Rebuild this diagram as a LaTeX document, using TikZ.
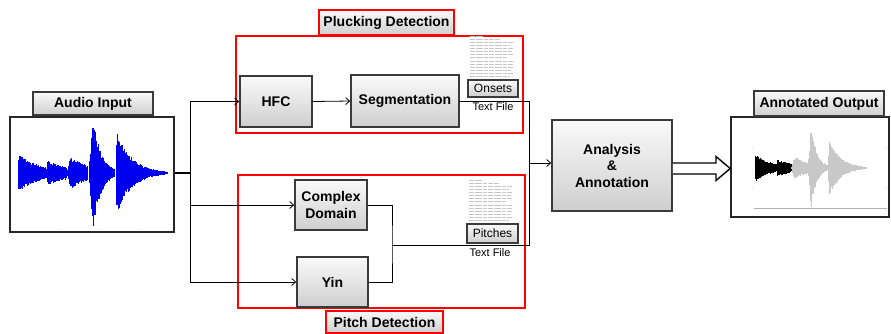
\documentclass[tikz,border=0pt]{standalone}
\usepackage{fontspec}
\setmainfont{Liberation Sans}
\usetikzlibrary{arrows.meta,calc}
\definecolor{bord}{HTML}{3A3A3A}
\definecolor{wblue}{HTML}{0000F0}
\definecolor{wgray}{HTML}{C8C8C8}
\newcommand{\lblfont}{\fontsize{14}{16.5}\selectfont\bfseries}
\newcommand{\smallfont}{\fontsize{12}{14}\selectfont}
\newcommand{\tinyfont}{\fontsize{11}{13}\selectfont}
% one note of a waveform: x0, x1, amplitude, attack, tau, colour
\newcommand{\wnote}[6]{%
  \pgfmathsetmacro\wn{int((#2-#1)/0.45)}%
  \foreach \i in {0,...,\wn}{%
    \pgfmathsetmacro\tt{\i*0.45}%
    \pgfmathsetmacro\att{min(1,(\tt+0.5)/#4)}%
    \pgfmathsetmacro\env{#3*\att*exp(-max(0,\tt-#4)/#5)}%
    \pgfmathsetmacro\up{\env*(0.72+0.28*rnd)}%
    \pgfmathsetmacro\dn{\env*(0.72+0.28*rnd)}%
    \draw[#6,line width=0.6pt] (#1+\tt,-\up) -- (#1+\tt,\dn);
  }}
\newcommand{\wave}[5]{%
  \wnote{0}{28}{19}{1}{22}{#1}
  \wnote{29}{48}{12}{1}{30}{#2}
  \wnote{49}{70}{16}{4}{22}{#3}
  \wnote{71}{97}{56}{4}{8}{#4}
  \wnote{98}{149}{41}{1}{15}{#5}}
\newcommand{\docthumb}[2]{% top-left corner
  \foreach \k/\l in {0/14,1/30,2/44,3/40,4/44,5/42,6/44,7/38,8/44,9/43,10/44,11/41,12/44,13/40}{%
    \draw[gray!45,line width=0.5pt,dash pattern=on 5pt off 1pt on 7pt off 1pt on 4pt off 1pt]
      (#1,#2+\k*3.1) -- ++(\l,0);}}
\begin{document}
\begin{tikzpicture}[x=1pt,y=-1pt,
  blk/.style={draw=bord,line width=1.6pt,top color=gray!4,bottom color=gray!38,
    font=\lblfont,align=center,inner sep=0pt},
  lblbox/.style={blk},
  redlbl/.style={draw=red,line width=1.6pt,top color=gray!4,bottom color=gray!38,
    font=\lblfont,inner sep=0pt},
  redbox/.style={draw=red,line width=1.5pt,inner sep=0pt},
  filebox/.style={draw=bord,line width=1.6pt,top color=gray!4,bottom color=gray!38,
    font=\smallfont,inner sep=0pt},
  plotbox/.style={draw=black!85,line width=1.6pt,fill=white,inner sep=0pt},
  conn/.style={black,line width=0.8pt},
  arr/.style={conn,-{Straight Barb[length=4pt,width=7pt]}}]
\useasboundingbox (0,0) rectangle (891,333);
\pgfmathsetseed{4321}
% group boxes
\node[redbox,minimum width=287pt,minimum height=97pt] (pluck) at (379.5,84.5) {};
\node[redbox,minimum width=287pt,minimum height=133pt] (pitch) at (381.5,241.5) {};
\node[redlbl,minimum width=135pt,minimum height=25pt] (plucklbl) at (386.5,22.5) {Plucking Detection};
\node[redlbl,minimum width=117pt,minimum height=22pt] (pitchlbl) at (384.5,322) {Pitch Detection};
% audio input
\node[plotbox,minimum width=164pt,minimum height=115pt] (audio) at (92,174.5) {};
\node[lblbox,minimum width=120pt,minimum height=23pt] (audiolbl) at (93,103.5) {Audio Input};
\begin{scope}[shift={(18,173)}]
  \wave{wblue}{wblue}{wblue}{wblue}{wblue}
\end{scope}
\foreach \xx in {60,100,140}{\fill[gray!50] (\xx,229) circle (0.5pt);}
% blocks
\node[blk,minimum width=72pt,minimum height=51pt] (hfc) at (276,101.5) {HFC};
\node[blk,minimum width=108pt,minimum height=52pt] (seg) at (405,101) {Segmentation};
\node[blk,minimum width=72pt,minimum height=50pt] (cd) at (331,205) {Complex\\Domain};
\node[blk,minimum width=71pt,minimum height=50pt] (yin) at (332.5,282) {Yin};
\node[blk,minimum width=120pt,minimum height=91pt] (analysis) at (612,165.5) {Analysis\\\&\\Annotation};
% text files
\docthumb{470}{36}
\node[filebox,minimum width=50pt,minimum height=17pt] (onsets) at (493,88.5) {Onsets};
\node[font=\tinyfont,inner sep=0pt] (tf1) at (493,107) {Text File};
\docthumb{469}{180}
\node[filebox,minimum width=51pt,minimum height=19pt] (pitches) at (492.5,233.5) {Pitches};
\node[font=\tinyfont,inner sep=0pt] (tf2) at (490,253) {Text File};
% output
\node[plotbox,minimum width=158pt,minimum height=100pt] (outbox) at (810,167) {};
\node[lblbox,minimum width=130pt,minimum height=25pt] (outlbl) at (819,103.5) {Annotated Output};
\draw[gray!60,line width=0.5pt] (754,208.5) -- (887,208.5);
\foreach \yy in {128,148,168,188}{\fill[gray!60] (752,\yy) circle (0.5pt);}
\foreach \yy in {148,188}{\fill[gray!60] (886,\yy) circle (0.5pt);}
\begin{scope}[shift={(755,168)},xscale=0.75,yscale=0.7]
  \wave{black}{black}{wgray}{wgray}{wgray}
\end{scope}
% connectors
\coordinate (j1) at (190,173);
\coordinate (jt) at (190,101.5);
\coordinate (jb) at (190,282);
\draw[black,line width=1.6pt] (audio.east |- j1) -- (j1);
\draw[conn] (jt) -- (jb);
\draw[arr] (jt) -- (hfc.west);
\draw[arr] (cd.west -| j1) -- (cd.west);
\draw[arr] (jb) -- (yin.west);
\draw[arr] (hfc.east) -- (seg.west);
\coordinate (r1) at (529,101);
\coordinate (r2) at (529,245);
\coordinate (pj) at (392,245);
\draw[conn] (seg.east) -- (r1) -- (r2) -- (pj);
\draw[conn] (cd.east) -| (pj) |- (yin.east);
\coordinate (ra) at (529,163);
\draw[arr] (ra) -- (ra -| analysis.west);
% hollow arrow
\draw[black,line width=1.4pt,fill=white,line join=miter]
  (analysis.east |- 0,163) -- (716,163) -- (716,156.5) -- (outbox.west |- 0,168.5)
  -- (716,180.5) -- (716,174) -- (analysis.east |- 0,174);
\end{tikzpicture}
\end{document}
